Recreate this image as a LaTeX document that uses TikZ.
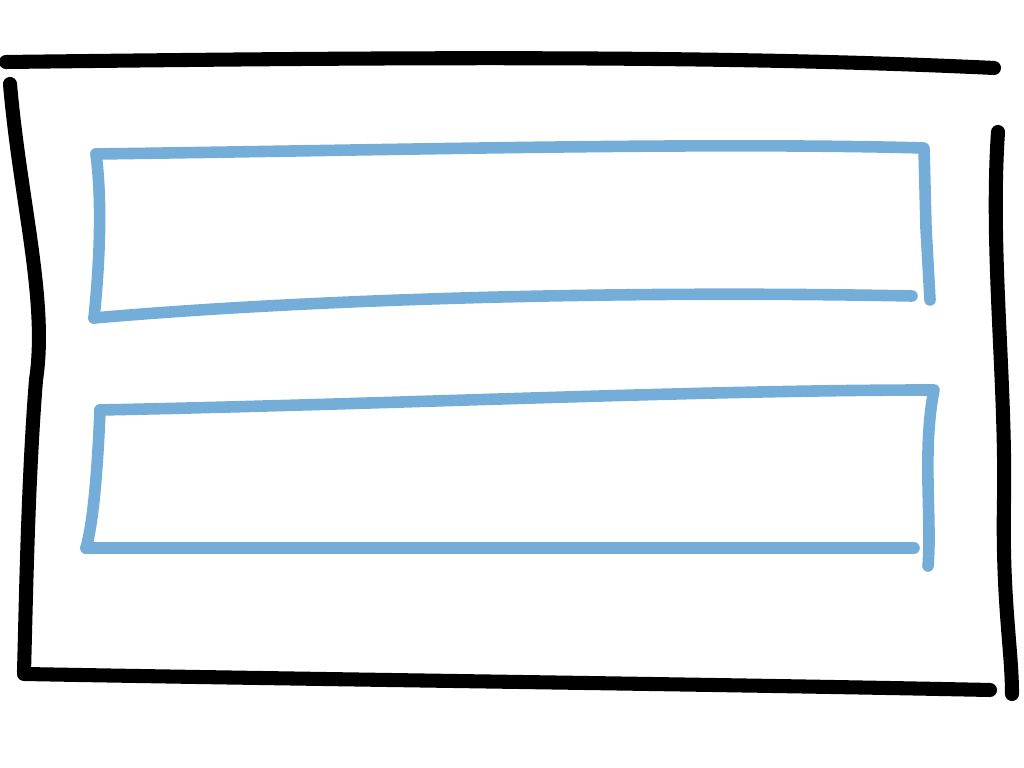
\documentclass[tikz,border=0pt]{standalone}
\usetikzlibrary{calc}
\definecolor{sketchblue}{RGB}{116,174,216}

\begin{document}
\begin{tikzpicture}[
  x=0.01cm, y=-0.01cm,
  frame/.style={draw=black, line width=4pt, line cap=round, line join=round},
  pane/.style={draw=sketchblue, line width=3.3pt, line cap=round, line join=round}
]
\useasboundingbox (0,0) rectangle (1024,768);
% outer frame, four loose strokes
\draw[frame] (6,62) .. controls (350,58) and (700,54) .. (994,68);
\draw[frame] (10,84) .. controls (20,200) and (48,300) .. (36,380)
  .. controls (28,480) and (26,600) .. (24,672);
\draw[frame] (24,674) .. controls (350,680) and (700,684) .. (990,690);
\draw[frame] (998,132) .. controls (990,250) and (1006,380) .. (1004,500)
  .. controls (1002,600) and (1012,650) .. (1012,694);
% upper pane
\draw[pane] (96,154) .. controls (400,150) and (700,142) .. (924,148)
  -- (926,228) -- (930,300);
\draw[pane] (912,296) .. controls (600,290) and (300,300) .. (94,318);
\draw[pane] (96,154) .. controls (102,200) and (100,260) .. (94,318);
% lower pane
\draw[pane] (100,410) .. controls (400,404) and (700,390) .. (934,390)
  .. controls (922,450) and (932,520) .. (928,566);
\draw[pane] (914,548) .. controls (600,548) and (300,548) .. (86,548);
\draw[pane] (100,410) .. controls (98,460) and (94,520) .. (86,548);
\end{tikzpicture}
\end{document}
